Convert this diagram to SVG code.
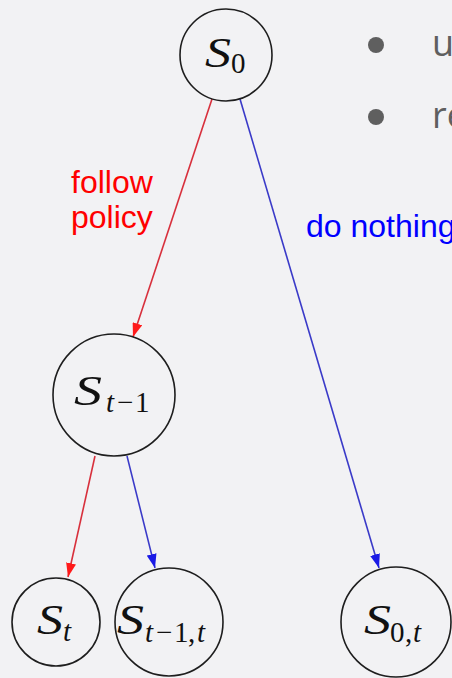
<svg xmlns="http://www.w3.org/2000/svg" width="452" height="678" viewBox="0 0 452 678">
<defs>
<style>
.node{fill:none;stroke:#1e1e1e;stroke-width:1.6}
.S{font-family:"Liberation Serif","DejaVu Serif",serif;font-style:italic;font-size:42px;fill:#111}
.sub{font-family:"Liberation Serif","DejaVu Serif",serif;font-size:29px;fill:#111}
.it{font-style:italic}
.red{stroke:#d8303c;stroke-width:1.6;fill:none}
.blue{stroke:#3a3ac8;stroke-width:1.6;fill:none}
.lbl{font-family:"Liberation Sans",Arial,sans-serif;font-size:32px}
.bul{font-family:"Open Sans","Noto Sans",sans-serif;font-size:36px;fill:#5f5f5f}
</style>
<marker id="ar" viewBox="0 0 14 10" refX="14" refY="5" markerWidth="14" markerHeight="10" markerUnits="userSpaceOnUse" orient="auto"><path d="M0,0 L14,5 L0,10 z" fill="#ff1a1a"/></marker>
<marker id="ab" viewBox="0 0 14 10" refX="14" refY="5" markerWidth="14" markerHeight="10" markerUnits="userSpaceOnUse" orient="auto"><path d="M0,0 L14,5 L0,10 z" fill="#1a1ae6"/></marker>
</defs>
<rect width="452" height="678" fill="#f2f2f4"/>
<g id="connectors">
<line class="red" x1="212" y1="99" x2="133" y2="337" marker-end="url(#ar)"/>
<line class="blue" x1="240" y1="99" x2="379" y2="568" marker-end="url(#ab)"/>
<line class="red" x1="95" y1="456" x2="68" y2="577" marker-end="url(#ar)"/>
<line class="blue" x1="127" y1="456" x2="155" y2="568" marker-end="url(#ab)"/>
<text class="lbl" fill="#ff0000" x="71" y="193">follow</text>
<text class="lbl" fill="#ff0000" x="71" y="228">policy</text>
<text class="lbl" fill="#0000ff" x="306" y="237">do nothing</text>
</g>
<g id="S0">
<circle class="node" cx="226" cy="55" r="46"/>
<text class="S" x="205" y="67" textLength="26" lengthAdjust="spacingAndGlyphs">S</text>
<text class="sub" x="231" y="73">0</text>
</g>
<g id="St-1">
<circle class="node" cx="114" cy="395" r="61"/>
<text class="S" x="74" y="405" textLength="28" lengthAdjust="spacingAndGlyphs">S</text>
<text class="sub" y="412"><tspan class="it" x="106">t</tspan><tspan x="117">−</tspan><tspan x="135">1</tspan></text>
</g>
<g id="St">
<circle class="node" cx="56" cy="622" r="44"/>
<text class="S" x="37" y="634" textLength="26" lengthAdjust="spacingAndGlyphs">S</text>
<text class="sub it" x="63" y="641">t</text>
</g>
<g id="St-1t">
<circle class="node" cx="169" cy="622" r="54"/>
<text class="S" x="117" y="634" textLength="27" lengthAdjust="spacingAndGlyphs">S</text>
<text class="sub" y="642"><tspan class="it" x="145">t</tspan><tspan x="156">−</tspan><tspan x="174">1</tspan><tspan x="188">,</tspan><tspan class="it" x="197">t</tspan></text>
</g>
<g id="S0t">
<circle class="node" cx="396" cy="622" r="55"/>
<text class="S" x="364" y="634" textLength="27" lengthAdjust="spacingAndGlyphs">S</text>
<text class="sub" y="642"><tspan x="390">0</tspan><tspan x="405">,</tspan><tspan class="it" x="413">t</tspan></text>
</g>
<g id="bullets">
<circle cx="376" cy="45" r="8" fill="#5f5f5f"/>
<text class="bul" x="432" y="56">u</text>
<circle cx="376" cy="117" r="8" fill="#5f5f5f"/>
<text class="bul" x="432" y="128">re</text>
</g>
</svg>
